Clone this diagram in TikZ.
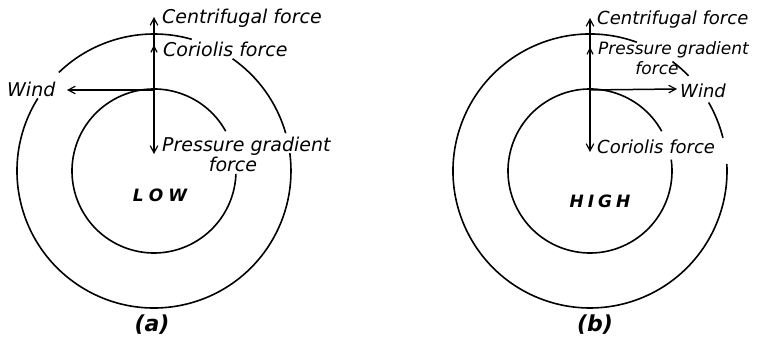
\documentclass[tikz,border=0pt]{standalone}
\usepackage{fontspec}
\setmainfont{DejaVu Sans}
\usetikzlibrary{arrows.meta}
\tikzset{
  ring/.style={line width=1.6pt},
  vec/.style={line width=1.5pt,-{Straight Barb[length=7pt,width=7.5pt,line width=1.2pt]}},
  vecsmall/.style={line width=1.5pt,-{Straight Barb[length=6pt,width=6pt,line width=1.2pt]}},
  lbl/.style={inner sep=0pt,anchor=base west,font=\fontsize{19}{22}\selectfont\itshape},
  lblc/.style={inner sep=0pt,anchor=base,font=\fontsize{19}{22}\selectfont\itshape},
  lblb/.style={inner sep=0pt,anchor=base west,font=\fontsize{18}{21}\selectfont\itshape},
  big/.style={inner sep=0pt,anchor=base,font=\fontsize{17}{20}\selectfont\bfseries\itshape},
  captext/.style={inner sep=0pt,anchor=base,font=\fontsize{22}{24}\selectfont\bfseries\itshape},
}
\begin{document}
\begin{tikzpicture}[x=1pt,y=1pt]
\useasboundingbox (0,0) rectangle (763,339);
% ---------- (a) LOW ----------
\coordinate (Ca) at (154,168);
\coordinate (Oa) at (154,249);
\coordinate (CfA) at (154,322);
\coordinate (CoA) at (154,294);
\coordinate (PgA) at (154,185);
\coordinate (WiA) at (67,249);
\draw[ring] ([shift={(74:137)}]Ca) arc[start angle=74,end angle=134,radius=137];
\draw[ring] ([shift={(148:137)}]Ca) arc[start angle=148,end angle=367.5,radius=137];
\draw[ring] ([shift={(16:137)}]Ca) arc[start angle=16,end angle=55,radius=137];
\draw[ring] ([shift={(29:82)}]Ca) arc[start angle=29,end angle=358,radius=82];
\draw[vec] (Oa) -- (CfA);
\draw[vecsmall] (Oa) -- (CoA);
\draw[vec] (Oa) -- (PgA);
\draw[vec] (Oa) -- (WiA);
\node[lbl] (tCfA) at (162,315) {Centrifugal force};
\node[lbl] (tCoA) at (163,282) {Coriolis force};
\node[lbl] (tWiA) at (7,242) {Wind};
\node[lbl] (tPgA) at (162,187) {Pressure gradient};
\node[lblc] (tPgA2) at (233,167) {force};
\node[big] (low) at (160,137) {L\hspace{5pt}O\hspace{5pt}W};
\node[captext] (capA) at (152,7) {(a)};
% ---------- (b) HIGH ----------
\coordinate (Cb) at (590,168);
\coordinate (Ob) at (590,249);
\coordinate (CfB) at (590,321);
\coordinate (PgB) at (590,292);
\coordinate (CoB) at (590,187);
\coordinate (WiB) at (677,250);
\draw[ring] ([shift={(70:137)}]Cb) arc[start angle=70,end angle=363,radius=137];
\draw[ring] ([shift={(14:137)}]Cb) arc[start angle=14,end angle=30,radius=137];
\draw[ring] ([shift={(44:137)}]Cb) arc[start angle=44,end angle=53,radius=137];
\draw[ring] ([shift={(29:82)}]Cb) arc[start angle=29,end angle=368,radius=82];
\draw[vec] (Ob) -- (CfB);
\draw[vecsmall] (Ob) -- (PgB);
\draw[vec] (Ob) -- (CoB);
\draw[vec] (Ob) -- (WiB);
\node[lblb] (tCfB) at (597,314) {Centrifugal force};
\node[lblb,font=\fontsize{17}{20}\selectfont\itshape] (tPgB) at (598,284) {Pressure gradient};
\node[lblc,font=\fontsize{17}{20}\selectfont\itshape] (tPgB2) at (657,264) {force};
\node[lblb] (tWiB) at (680,241) {Wind};
\node[lblb] (tCoB) at (597,185) {Coriolis force};
\node[big] (high) at (600,131) {H\hspace{4pt}I\hspace{4pt}G\hspace{4pt}H};
\node[captext] (capB) at (595,7) {(b)};
\end{tikzpicture}
\end{document}
